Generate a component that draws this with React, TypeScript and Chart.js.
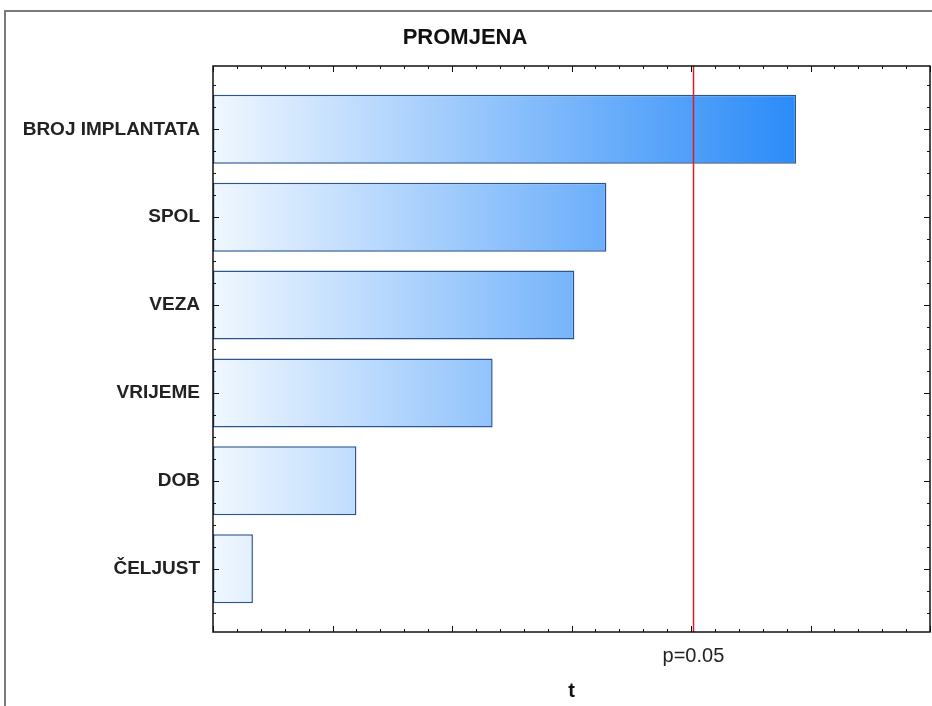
import React, { useEffect, useRef } from "react";
import { Chart, registerables } from "chart.js";

Chart.register(...registerables);

// ---- data ----
const CATEGORIES: string[] = ["BROJ IMPLANTATA", "SPOL", "VEZA", "VRIJEME", "DOB", "ČELJUST"];
const T_VALUES: number[] = [2.44, 1.646, 1.512, 1.17, 0.6, 0.167];
const P_CRIT = 2.01;
const P_LABEL = "p=0.05";
const TITLE = "PROMJENA";
const X_TITLE = "t";
const X_RANGE: number[] = [0, 3];
const X_STEPS: number[] = [0.5, 0.1]; // major, minor
const Y_RANGE: number[] = [-0.72, 5.72];
const Y_STEPS: number[] = [1, 0.25]; // major, minor

const FONT = "'Liberation Sans', Arial, sans-serif";

const framePlugin = {
  id: "frameTicks",
  beforeDraw(chart: any) {
    const ctx = chart.ctx;
    ctx.save();
    ctx.fillStyle = "#ffffff";
    ctx.fillRect(0, 0, chart.width, chart.height);
    ctx.strokeStyle = "#7a7a7a";
    ctx.lineWidth = 2;
    ctx.beginPath();
    ctx.moveTo(5, chart.height);
    ctx.lineTo(5, 11);
    ctx.lineTo(chart.width, 11);
    ctx.stroke();
    ctx.restore();
  },
  afterDatasetsDraw(chart: any) {
    const ctx = chart.ctx;
    const { left, right, top, bottom } = chart.chartArea;
    const xs = chart.scales.x;
    const ys = chart.scales.y;
    ctx.save();
    // critical value line
    const px = Math.round(xs.getPixelForValue(P_CRIT)) + 0.5;
    ctx.strokeStyle = "#d0232a";
    ctx.lineWidth = 1.5;
    ctx.beginPath();
    ctx.moveTo(px, top);
    ctx.lineTo(px, bottom);
    ctx.stroke();

    // ticks
    ctx.strokeStyle = "#111111";
    ctx.lineWidth = 1;
    const nx = Math.round((X_RANGE[1] - X_RANGE[0]) / X_STEPS[1]);
    const ratioX = Math.round(X_STEPS[0] / X_STEPS[1]);
    ctx.beginPath();
    for (let i = 0; i <= nx; i++) {
      const v = X_RANGE[0] + i * X_STEPS[1];
      const p = Math.round(xs.getPixelForValue(v)) + 0.5;
      const len = i % ratioX === 0 ? 6 : 3;
      ctx.moveTo(p, bottom);
      ctx.lineTo(p, bottom - len);
      ctx.moveTo(p, top);
      ctx.lineTo(p, top + len);
    }
    const ratioY = Math.round(Y_STEPS[0] / Y_STEPS[1]);
    const k0 = Math.ceil(Y_RANGE[0] / Y_STEPS[1]);
    const k1 = Math.floor(Y_RANGE[1] / Y_STEPS[1]);
    for (let k = k0; k <= k1; k++) {
      const v = k * Y_STEPS[1];
      const p = Math.round(ys.getPixelForValue(v)) + 0.5;
      const len = k % ratioY === 0 ? 6 : 3;
      ctx.moveTo(left, p);
      ctx.lineTo(left + len, p);
      ctx.moveTo(right, p);
      ctx.lineTo(right - len, p);
    }
    ctx.stroke();

    // frame
    ctx.strokeStyle = "#111111";
    ctx.lineWidth = 1.5;
    ctx.strokeRect(left, top, right - left, bottom - top);
    ctx.restore();
  },
};

export default function App() {
  const ref = useRef<HTMLCanvasElement | null>(null);

  useEffect(() => {
    if (!ref.current) return;
    const chart = new Chart(ref.current, {
      type: "bar",
      data: {
        datasets: [
          {
            data: T_VALUES.map((v, i) => ({ x: v, y: i })),
            backgroundColor: (c: any) => {
              const ch = c.chart;
              if (!ch.chartArea) return "#8cc4fb";
              const xs = ch.scales.x;
              const g = ch.ctx.createLinearGradient(
                xs.getPixelForValue(0),
                0,
                xs.getPixelForValue(Math.max(...T_VALUES)),
                0
              );
              g.addColorStop(0, "#f0f7ff");
              g.addColorStop(1, "#2b8bf8");
              return g;
            },
            borderColor: "#2a5592",
            borderWidth: 1.5,
            borderSkipped: false,
            barPercentage: 0.785,
            categoryPercentage: 1,
          } as any,
        ],
      },
      options: {
        indexAxis: "y",
        responsive: false,
        animation: false,
        devicePixelRatio: 1,
        layout: { padding: { left: 0, right: 2, top: 0, bottom: 0 } },
        plugins: {
          legend: { display: false },
          tooltip: { enabled: false },
          title: {
            display: true,
            text: TITLE,
            color: "#111111",
            font: { family: FONT, size: 22, weight: "bold" },
            padding: { top: 25, bottom: 14.6 },
          },
        },
        scales: {
          x: {
            type: "linear",
            min: X_RANGE[0],
            max: X_RANGE[1],
            offset: false,
            grid: { display: false, drawTicks: false },
            border: { display: false },
            afterBuildTicks: (s: any) => {
              s.ticks = [{ value: P_CRIT }];
            },
            afterFit: (s: any) => {
              s.height = 74;
            },
            ticks: {
              autoSkip: false,
              maxRotation: 0,
              padding: 12,
              color: "#222222",
              font: { family: FONT, size: 20 },
              callback: () => P_LABEL,
            },
            title: {
              display: true,
              text: X_TITLE,
              color: "#111111",
              font: { family: FONT, size: 20, weight: "bold" },
              padding: { top: 0, bottom: 3 },
            },
          },
          y: {
            type: "linear",
            min: Y_RANGE[0],
            max: Y_RANGE[1],
            reverse: true,
            offset: false,
            grid: { display: false, drawTicks: false, offset: false },
            border: { display: false },
            afterBuildTicks: (s: any) => {
              s.ticks = CATEGORIES.map((_, i) => ({ value: i }));
            },
            afterFit: (s: any) => {
              s.width = 213;
            },
            ticks: {
              autoSkip: false,
              padding: 13,
              color: "#222222",
              font: { family: FONT, size: 19, weight: "bold" },
              callback: (v: any) => CATEGORIES[Number(v)] ?? "",
            },
          },
        },
      } as any,
      plugins: [framePlugin],
    });
    return () => chart.destroy();
  }, []);

  return (
    <div style={{ position: "absolute", left: 0, top: 0, width: 932, height: 706, background: "#fff" }}>
      <canvas ref={ref} width={932} height={706} style={{ display: "block" }} />
    </div>
  );
}
